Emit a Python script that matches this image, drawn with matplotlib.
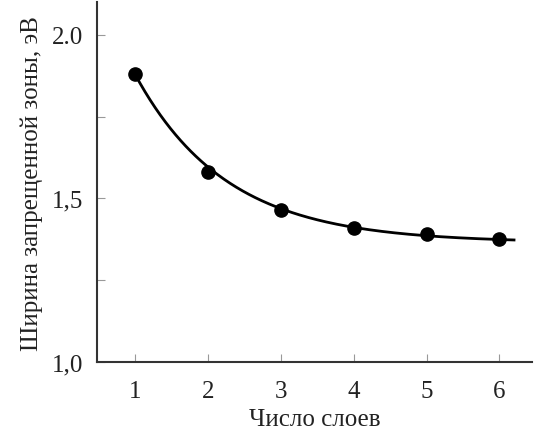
import numpy as np
import matplotlib
matplotlib.use("Agg")
import matplotlib.pyplot as plt
from matplotlib.ticker import FixedLocator

# Band gap vs number of layers
layers = [1, 2, 3, 4, 5, 6]
band_gap = [1.88, 1.58, 1.465, 1.41, 1.39, 1.375]
y_ticks = [1.0, 1.5, 2.0]
y_tick_labels = ["1,0", "1,5", "2.0"]
y_minor_ticks = [1.25, 1.75]
x_ticks = [1, 2, 3, 4, 5, 6]

# Smooth trend y = a + b*exp(-c*(x-1))
trend_a, trend_b, trend_c = 1.365, 0.515, 0.80
trend_x_end = 6.2

plt.rcParams["font.family"] = ["Liberation Serif", "DejaVu Serif"]

xs = np.linspace(layers[0], trend_x_end, 300)
ys = trend_a + trend_b * np.exp(-trend_c * (xs - layers[0]))

fig = plt.figure(figsize=(5.36, 4.39), dpi=100)
ax = fig.add_axes([0.181, 0.173, 0.812, 0.82])

ax.plot(xs, ys, color="black", lw=2.0, zorder=2)
ax.plot(layers, band_gap, "o", color="black", ms=9.5, zorder=3)

ax.set_xlim(0.48, 6.45)
ax.set_ylim(1.0, 2.1)
ax.set_xticks(x_ticks)
ax.set_yticks(y_ticks)
ax.set_yticklabels(y_tick_labels)
ax.yaxis.set_minor_locator(FixedLocator(y_minor_ticks))

for s in ("top", "right"):
    ax.spines[s].set_visible(False)
for s in ("left", "bottom"):
    ax.spines[s].set_linewidth(1.5)
    ax.spines[s].set_color("#333333")

ax.tick_params(which="both", direction="in", length=6, width=0.8,
               color="#999999", labelsize=18, labelcolor="#222222")
ax.tick_params(axis="y", pad=10)
ax.tick_params(axis="x", pad=13)

ax.set_xlabel("Число слоев", fontsize=18, color="#222222", labelpad=4)
ax.set_ylabel("Ширина запрещенной зоны, эВ", fontsize=18, color="#222222", labelpad=6)

fig.savefig("out.png", dpi=100)
